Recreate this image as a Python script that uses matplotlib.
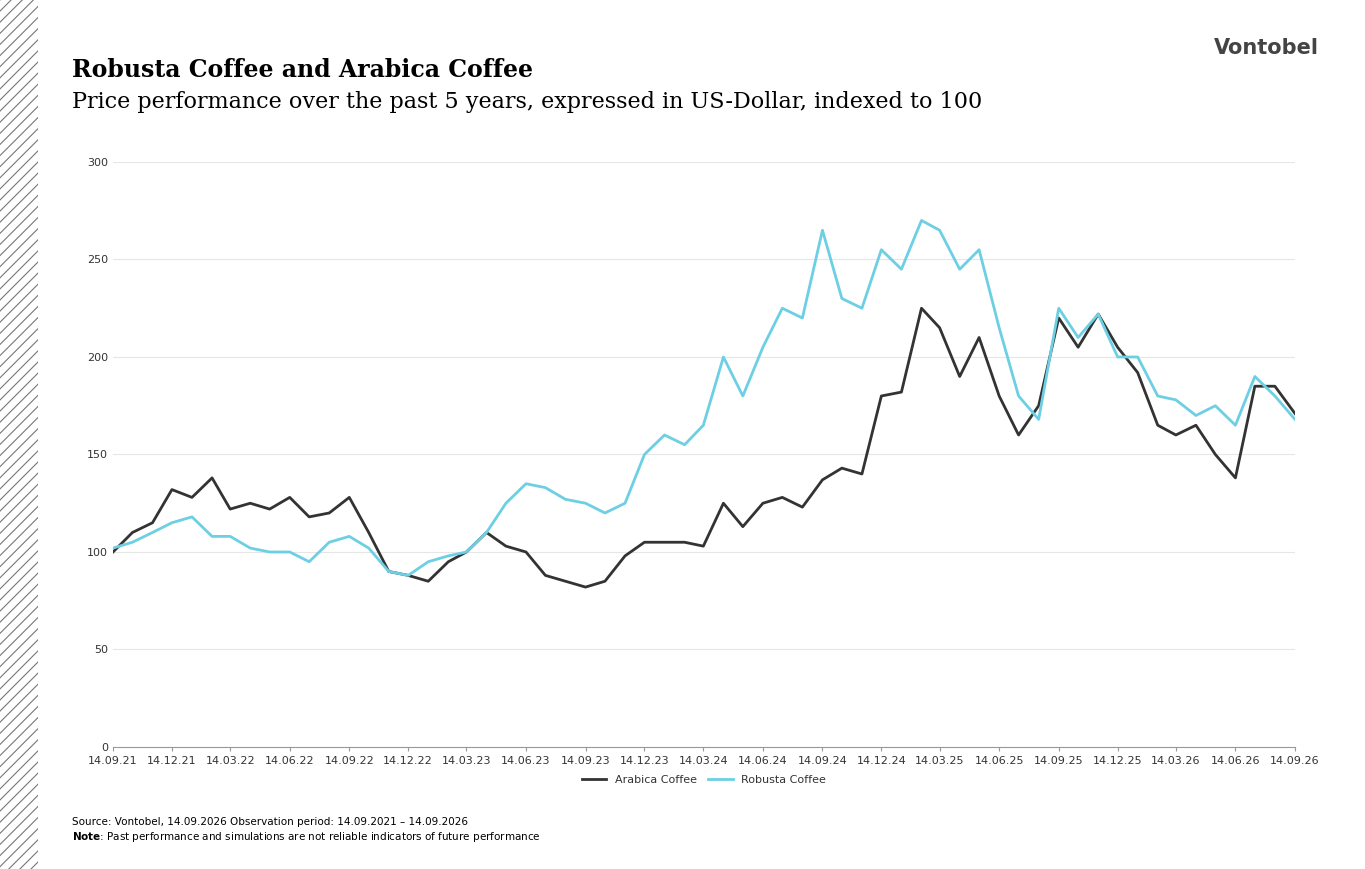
import matplotlib.pyplot as plt
import matplotlib.patches as mpatches
import pandas as pd

# monthly readings, 14.09.2021 .. 14.09.2026
dates = pd.date_range("2021-09-01", periods=61, freq="MS") + pd.Timedelta(days=13)
arabica = [100, 110, 115, 132, 128, 138, 122, 125, 122, 128, 118, 120,
           128, 110, 90, 88, 85, 95, 100, 110, 103, 100, 88, 85,
           82, 85, 98, 105, 105, 105, 103, 125, 113, 125, 128, 123,
           137, 143, 140, 180, 182, 225, 215, 190, 210, 180, 160, 175,
           220, 205, 222, 205, 192, 165, 160, 165, 150, 138, 185, 185,
           171]
robusta = [102, 105, 110, 115, 118, 108, 108, 102, 100, 100, 95, 105,
           108, 102, 90, 88, 95, 98, 100, 110, 125, 135, 133, 127,
           125, 120, 125, 150, 160, 155, 165, 200, 180, 205, 225, 220,
           265, 230, 225, 255, 245, 270, 265, 245, 255, 215, 180, 168,
           225, 210, 222, 200, 200, 180, 178, 170, 175, 165, 190, 180,
           168]
tick_dates = pd.date_range("2021-09-01", periods=21, freq="3MS") + pd.Timedelta(days=13)
tick_labels = [d.strftime("%d.%m.%y") for d in tick_dates]

fig = plt.figure(figsize=(13.65, 8.69), dpi=100)
ax = fig.add_axes([0.0828, 0.1404, 0.8659, 0.6732])

ax.plot(dates, arabica, color="#333333", lw=2.0, label="Arabica Coffee")
ax.plot(dates, robusta, color="#6dcfe3", lw=2.0, label="Robusta Coffee")

ax.set_ylim(0, 300)
ax.set_yticks(range(0, 301, 50))
ax.set_xlim(dates[0], dates[-1])
ax.set_xticks(tick_dates)
ax.set_xticklabels(tick_labels)
ax.tick_params(labelsize=8, colors="#333333", length=0)
ax.tick_params(axis="x", length=3, color="#999999")
ax.grid(True, axis="y", color="#e6e6e6", lw=0.8)
for s in ["top", "right", "left"]:
    ax.spines[s].set_visible(False)
ax.spines["bottom"].set_color("#999999")
ax.legend(loc="upper center", bbox_to_anchor=(0.5, -0.03), ncol=2, frameon=False,
          fontsize=8, handlelength=2.2, labelcolor="#333333", columnspacing=1.0)

# hatched strip on the left
plt.rcParams["hatch.color"] = "#777777"
plt.rcParams["hatch.linewidth"] = 0.8
fig.patches.append(mpatches.Rectangle((0, 0), 38 / 1365, 1, transform=fig.transFigure,
                                      facecolor="white", edgecolor="#777777",
                                      hatch="///", lw=0))

fig.text(0.053, 0.92, "Robusta Coffee and Arabica Coffee", family="serif",
         fontweight="bold", fontsize=17, va="center")
fig.text(0.053, 0.883, "Price performance over the past 5 years, expressed in US-Dollar, indexed to 100",
         family="serif", fontsize=16, va="center")
fig.text(0.966, 0.945, "Vontobel", fontsize=15, fontweight="bold", ha="right",
         va="center", color="#444444")
fig.text(0.053, 0.054, "Source: Vontobel, 14.09.2026 Observation period: 14.09.2021 – 14.09.2026",
         fontsize=7.5, va="center")
fig.text(0.053, 0.037, r"$\bf{Note}$: Past performance and simulations are not reliable indicators of future performance",
         fontsize=7.5, va="center")

fig.savefig("out.png", dpi=100)
